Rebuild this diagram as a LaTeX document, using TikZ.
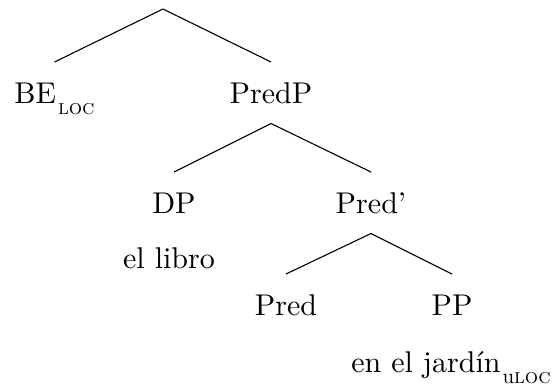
\documentclass[tikz,border=0pt]{standalone}
\usepackage{graphicx}
\newcommand\lsub[1]{\raisebox{-5.5pt}{\fontsize{10.5}{12}\selectfont #1}}
\newcommand\bigtxt[1]{\scalebox{1.5}{\fontsize{10}{12}\selectfont #1}}
\begin{document}
\begin{tikzpicture}[x=0.5pt,y=-0.5pt,
  lab/.style={anchor=base, inner sep=2pt, outer sep=0pt, text height=18.5pt, text depth=8.25pt},
  edge/.style={line width=0.55pt}]
\useasboundingbox (0,0) rectangle (555,388);
\coordinate (r) at (163,9);
\node[lab] (be) at (54.5,103) {\bigtxt{BE}\kern1pt\lsub{\textsc{loc}}};
\node[lab] (predp) at (271,103) {\bigtxt{PredP}};
\node[lab] (dp) at (174,213) {\bigtxt{DP}};
\node[lab] (predbar) at (371,213) {\bigtxt{Pred’}};
\node[lab] (ellibro) at (169,268) {\bigtxt{el libro}};
\node[lab] (pred) at (286,315) {\bigtxt{Pred}};
\node[lab] (pp) at (452,315) {\bigtxt{PP}};
\node[lab] (jardin) at (451,372) {\bigtxt{en el jardín}\kern1pt\lsub{u\textsc{loc}}};
\draw[edge] (r) -- (be.north);
\draw[edge] (r) -- (predp.north);
\draw[edge] (predp.south) -- (dp.north);
\draw[edge] (predp.south) -- (predbar.north);
\draw[edge] (predbar.south) -- (pred.north);
\draw[edge] (predbar.south) -- (pp.north);
\end{tikzpicture}
\end{document}
